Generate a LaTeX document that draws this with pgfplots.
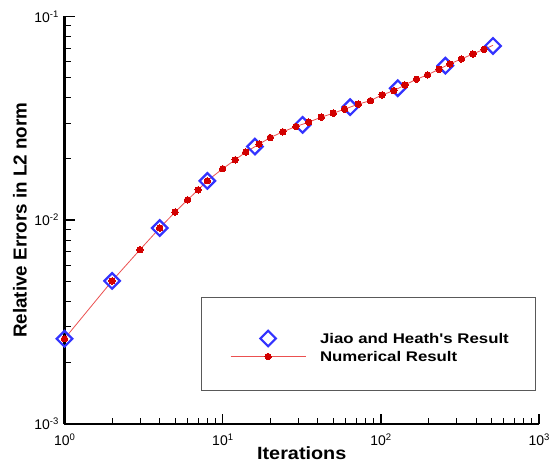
\documentclass[border=0pt]{standalone}
\usepackage{fontspec}
\setmainfont{Liberation Sans}
\newfontfamily\legfont[FakeStretch=1.2]{Liberation Sans}
\newfontfamily\xlabfont[FakeStretch=1.12]{Liberation Sans}
\usepackage{pgfplots}
\pgfplotsset{compat=1.18}

\definecolor{jhblue}{RGB}{51,51,255}
\definecolor{numred}{RGB}{210,0,0}
\definecolor{numline}{RGB}{235,80,80}
\newcommand\tp[1]{10\raisebox{5bp}{\fontsize{9.5bp}{9.5bp}\selectfont#1}}

\begin{document}
\begin{tikzpicture}
	\begin{axis}[
		xmode = log,
		ymode = log,
		scale only axis,
		width = 474.5bp,
		height = 407.5bp,
		xmin = 1, xmax = 1000,
		ymin = 0.001, ymax = 0.1,
		axis x line* = bottom,
		axis y line* = left,
		axis line style = {black, line width=2.2bp},
		clip = false,
		xtick = {1,10,100,1000},
		ytick = {0.001,0.01,0.1},
		xticklabels = {\tp{0},\tp{1},\tp{2},\tp{3}},
		yticklabels = {\tp{-3},\tp{-2},\tp{-1}},
		minor xtick = {2,3,4,5,6,7,8,9,20,30,40,50,60,70,80,90,200,300,400,500,600,700,800,900},
		minor ytick = {0.002,0.003,0.004,0.005,0.006,0.007,0.008,0.009,0.02,0.03,0.04,0.05,0.06,0.07,0.08,0.09},
		tick align = inside,
		major tick length = 10.5bp,
		minor tick length = 6.5bp,
		major tick style = {black, line width=1.6bp},
		minor tick style = {black, line width=0.9bp},
		xticklabel style = {anchor=base, inner sep=0pt, yshift=-21bp, font=\fontsize{14bp}{14bp}\selectfont},
		yticklabel style = {anchor=base east, inner sep=0pt, xshift=-6bp, yshift=-5.5bp, font=\fontsize{14bp}{14bp}\selectfont},
		xlabel = {Iterations},
		ylabel = {Relative Errors in L2 norm},
		xlabel style = {at={(rel axis cs:0.5,0)}, anchor=base, inner sep=0pt, yshift=-35.3bp, font=\xlabfont\fontsize{17.7bp}{18bp}\bfseries},
		ylabel style = {at={(rel axis cs:0,0.5)}, anchor=south, inner sep=0pt, yshift=37.5bp, font=\fontsize{18.8bp}{19bp}\bfseries},
		legend image code/.code = {
			\draw[mark repeat=2, mark phase=2, #1] plot coordinates {(0bp,0bp) (37.5bp,0bp) (75bp,0bp)};
		},
		legend style = {
			draw = none, fill = none,
			at = {(rel axis cs:0.3488,0.1877)}, anchor = west,
			inner sep = 0pt,
			row sep = 0pt,
			column sep = 14bp,
			font = \legfont\fontsize{14bp}{16bp}\bfseries,
			nodes = {inner xsep=0pt, inner ysep=1.5bp, text height=12bp, text depth=3bp},
		},
		legend cell align = left,
		]
		\addplot[
			only marks,
			mark = square,
			mark size = 5.5bp,
			mark options = {rotate=45, line width=2.2bp, draw=jhblue, fill=none},
		]
		coordinates {
			(1,0.00262) (2,0.00504) (4,0.00916) (8,0.0156) (16,0.0230)
			(32,0.02938) (64,0.0359) (128,0.04446) (256,0.0574) (512,0.0717)
		};
		\addlegendentry{Jiao and Heath's Result}

		\addplot[
			numline,
			line width = 0.8bp,
			mark = *,
			mark size = 3.2bp,
			mark options = {numred, fill=numred, line width=0pt},
		]
		coordinates {
			(1,0.00262) (2,0.00504) (3,0.00717) (4,0.00916) (5,0.01097)
			(6,0.0126) (7,0.0141) (8,0.01563) (10,0.0179) (12,0.0198)
			(14,0.0216) (17,0.02363) (20,0.02546) (24,0.02716) (29,0.02884)
			(35,0.0303) (42,0.03206) (50,0.03353) (59,0.0351) (72,0.03714)
			(86,0.03866) (102,0.04124) (121,0.04328) (142,0.04614) (168,0.04922)
			(197,0.05166) (233,0.0551) (273,0.05851) (323,0.06189) (382,0.06547)
			(449,0.06905)
		};
		\addlegendentry{Numerical Result}

		\addplot[numline, line width=0.8bp, forget plot]
		coordinates {(449,0.06905) (512,0.0722)};

		\draw[black!65, line width=0.8bp] (rel axis cs:0.2877,0.0834) rectangle (rel axis cs:0.9916,0.3117);
		\coordinate (sw) at (rel axis cs:0,0);
		\coordinate (ne) at (rel axis cs:1,1);
	\end{axis}
	\pgfresetboundingbox
	\path[use as bounding box] ([shift={(-64.5bp,-41bp)}]sw) rectangle ([shift={(16bp,16.5bp)}]ne);
\end{tikzpicture}
\end{document}
